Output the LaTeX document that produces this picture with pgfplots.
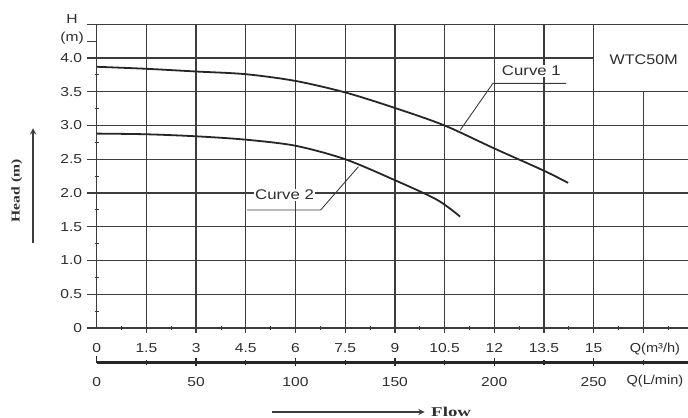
\documentclass[border=0pt]{standalone}
\usepackage{pgfplots}
\pgfplotsset{compat=1.18}
\usepackage{fontspec}
\setmainfont{Liberation Sans}
\newfontfamily\serifb{Liberation Serif}
\definecolor{gridc}{HTML}{3C3C3C}
\definecolor{txt}{HTML}{2E2E2E}
\begin{document}
\begin{tikzpicture}
\useasboundingbox (-96.7bp,-90bp) rectangle (591.3bp,328bp);
\begin{axis}[
  anchor=origin, at={(0,0)},
  x=33.13bp, y=67.5bp,
  xmin=0, xmax=17.85, ymin=0, ymax=4.5,
  axis x line*=bottom, axis y line*=left,
  axis line style={-, line width=1.3bp, gridc},
  clip=false,
  xtick={0,1.5,3,4.5,6,7.5,9,10.5,12,13.5,15,16.5},
  xticklabels={0,1.5,3,4.5,6,7.5,9,10.5,12,13.5,15,},
  minor xtick={0.75,2.25,3.75,5.25,6.75,8.25,9.75,11.25,12.75,14.25,15.75,17.25},
  ytick={0,0.5,1,1.5,2,2.5,3,3.5,4},
  yticklabels={0,0.5,1.0,1.5,2.0,2.5,3.0,3.5,4.0},
  minor ytick={0.25,0.75,1.25,1.75,2.25,2.75,3.25,3.75},
  tick align=center,
  major tick length=0pt,
  minor tick length=4bp,
  tick style={line width=0.8bp, gridc},
  ticklabel style={font=\fontsize{13bp}{15bp}\selectfont, text=txt, inner sep=0pt, xscale=1.2},
  xticklabel style={anchor=north, yshift=-15bp},
  yticklabel style={anchor=east, xshift=-12bp},
]
% grid
\pgfplotsinvokeforeach{1.5,3,4.5,6,7.5,9,10.5,12,13.5,15}{
  \draw[gridc, line width=1.3bp] (axis cs:#1,-0.07) -- (axis cs:#1,4.5);
}
\draw[gridc, line width=1.3bp] (axis cs:16.5,-0.07) -- (axis cs:16.5,3.5);
\pgfplotsinvokeforeach{0.5,1,1.5,2,2.5,3,3.5}{
  \draw[gridc, line width=1.3bp] (axis cs:-0.3,#1) -- (axis cs:17.85,#1);
}
\draw[gridc, line width=1.3bp] (axis cs:-0.3,4) -- (axis cs:15,4);
\draw[gridc, line width=1.3bp] (axis cs:-0.3,4.5) -- (axis cs:17.85,4.5);
\draw[gridc, line width=1.3bp] (axis cs:-0.3,0) -- (axis cs:0,0);
\draw[gridc, line width=1bp] (axis cs:-0.3,4.25) -- (axis cs:0,4.25);

% L/min scale line and ticks
\draw[black!85, line width=2.6bp] (axis cs:0,-0.5111) -- (axis cs:17.85,-0.5111);
\draw[black!85, line width=1.5bp] (axis cs:0,-0.5111) -- (axis cs:0,-0.42);
\pgfplotsinvokeforeach{3,6,9,12,15}{
  \draw[black!85, line width=1.5bp] (axis cs:#1,-0.45) -- (axis cs:#1,-0.57);
}
\pgfplotsinvokeforeach{1.5,4.5,7.5,10.5,13.5,16.5}{
  \draw[black!85, line width=1.3bp] (axis cs:#1,-0.475) -- (axis cs:#1,-0.545);
}
\pgfplotsinvokeforeach{0,3,6,9,12,15}{
  \node[anchor=north, inner sep=0pt, text=txt, font=\fontsize{13bp}{15bp}\selectfont, xscale=1.2] at (axis cs:#1,-0.73) {\pgfmathparse{int(round(#1*50/3))}\pgfmathresult};
}

% curves
\addplot[smooth, line width=1.8bp, black!85] coordinates {
 (0,3.87) (1.5,3.84) (3,3.80) (4.5,3.76) (6,3.66) (7.5,3.49) (9,3.26) (10.5,3.00) (12,2.66) (13.5,2.33) (14.23,2.15)};
\addplot[smooth, line width=1.8bp, black!85] coordinates {
 (0,2.88) (1.5,2.87) (3,2.84) (4.5,2.79) (6,2.70) (7.5,2.50) (9,2.19) (10.27,1.90) (10.97,1.65)};

% annotations
\draw[gridc, line width=0.9bp] (axis cs:14.17,3.625) -- (axis cs:11.96,3.625) -- (axis cs:10.97,2.93);
\node[fill=white, inner sep=1bp, text=txt, font=\fontsize{14bp}{16bp}\selectfont] at (axis cs:13.12,3.81) {\scalebox{1.2}[1]{Curve 1}};
\draw[gridc, line width=0.9bp] (axis cs:4.53,1.748) -- (axis cs:6.76,1.748) -- (axis cs:7.90,2.39);
\node[fill=white, inner sep=1bp, text=txt, font=\fontsize{14bp}{16bp}\selectfont] at (axis cs:5.67,1.97) {\scalebox{1.2}[1]{Curve 2}};
\node[text=txt, font=\fontsize{14bp}{16bp}\selectfont] at (axis cs:16.51,3.97) {\scalebox{1.15}[1]{WTC50M}};

\node[text=txt, font=\fontsize{13bp}{15bp}\selectfont] at (axis cs:-0.745,4.58) {\scalebox{1.2}[1]{H}};
\node[text=txt, font=\fontsize{13bp}{15bp}\selectfont] at (axis cs:-0.745,4.30) {\scalebox{1.2}[1]{(m)}};
\node[text=txt, font=\fontsize{13bp}{15bp}\selectfont] at (axis cs:16.85,-0.311) {\scalebox{1.12}[1]{Q(m³/h)}};
\node[text=txt, font=\fontsize{13bp}{15bp}\selectfont] at (axis cs:16.85,-0.785) {\scalebox{1.12}[1]{Q(L/min)}};

% axis titles with arrows
\node[rotate=90, text=txt, font=\serifb\bfseries\fontsize{12bp}{14bp}\selectfont] at (axis cs:-2.41,2.03) {\scalebox{1.3}[1]{Head (m)}};
\draw[gridc, line width=1.8bp, -stealth] (axis cs:-1.92,1.26) -- (axis cs:-1.92,2.96);
\draw[gridc, line width=1.8bp, -stealth] (axis cs:5.30,-1.244) -- (axis cs:9.90,-1.244);
\node[text=txt, font=\serifb\bfseries\fontsize{13.5bp}{15bp}\selectfont] at (axis cs:10.70,-1.244) {\scalebox{1.4}[1]{Flow}};
\end{axis}
\end{tikzpicture}
\end{document}
